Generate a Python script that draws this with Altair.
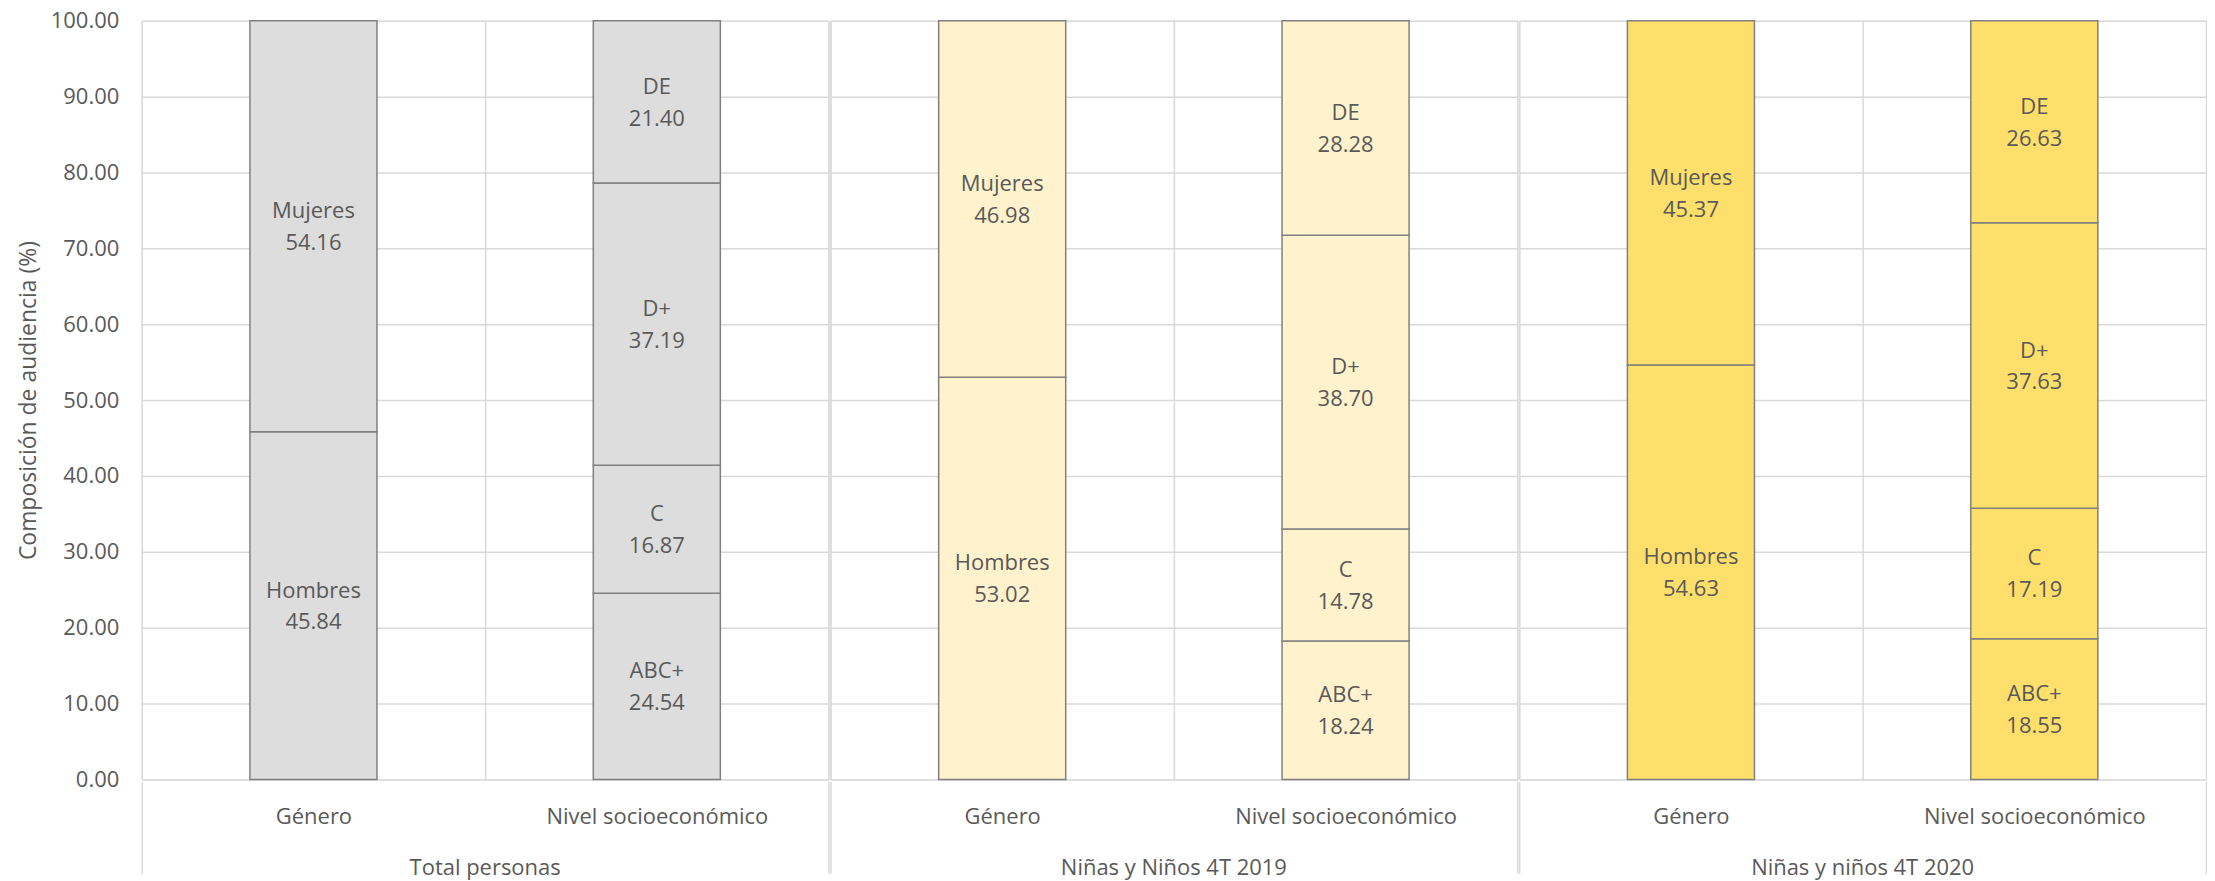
import altair as alt
import pandas as pd

groups = ["Total personas", "Niñas y Niños 4T 2019", "Niñas y niños 4T 2020"]
dimensions = ["Género", "Nivel socioeconómico"]
genero_cats = ["Hombres", "Mujeres"]
nse_cats = ["ABC+", "C", "D+", "DE"]

total_genero = [45.84, 54.16]
total_nse = [24.54, 16.87, 37.19, 21.40]
ninos2019_genero = [53.02, 46.98]
ninos2019_nse = [18.24, 14.78, 38.70, 28.28]
ninos2020_genero = [54.63, 45.37]
ninos2020_nse = [18.55, 17.19, 37.63, 26.63]

colors = ["#DDDDDD", "#FFF2CC", "#FFDF6B"]

series = [
    (groups[0], total_genero, total_nse),
    (groups[1], ninos2019_genero, ninos2019_nse),
    (groups[2], ninos2020_genero, ninos2020_nse),
]

rows = []
for g, gen, nse in series:
    for dim, cats, vals in ((dimensions[0], genero_cats, gen), (dimensions[1], nse_cats, nse)):
        acc = 0.0
        for c, v in zip(cats, vals):
            rows.append({"group": g, "dim": dim, "cat": c, "value": v,
                         "y0": acc, "y1": acc + v, "mid": acc + v / 2})
            acc += v
df = pd.DataFrame(rows)

FONT = "Open Sans"
TXT = "#595959"
GRID = "#D9D9D9"

xaxis = alt.Axis(
    title=None, labelAngle=0, domain=False, grid=True, gridColor=GRID, gridWidth=1.5,
    tickBand="extent", ticks=True, tickSize=92, tickColor=GRID, tickWidth=1.5,
    tickOpacity={"condition": {"test": "datum.value === 'Género'", "value": 0}, "value": 1},
    labelPadding=-67, labelFontSize=22, labelColor=TXT, labelFont=FONT, labelLimit=0,
)
yaxis = alt.Axis(
    title="Composición de audiencia (%)", values=list(range(0, 101, 10)), format=".2f",
    domain=False, ticks=False, grid=True, gridColor=GRID, gridWidth=1.5,
    labelPadding=22, labelFontSize=22, labelColor=TXT, labelFont=FONT,
    titleFontSize=23, titleFontWeight="normal", titleColor=TXT, titleFont=FONT, titlePadding=10,
)

bars = alt.Chart().mark_bar(
    stroke="#808080", strokeWidth=1.5, width=alt.RelativeBandSize(0.37)
).encode(
    x=alt.X("dim:N", sort=dimensions,
            scale=alt.Scale(domain=dimensions, paddingInner=0, paddingOuter=0), axis=xaxis),
    y=alt.Y("y0:Q", scale=alt.Scale(domain=[0, 100], nice=False), axis=yaxis),
    y2="y1:Q",
    color=alt.Color("group:N", scale=alt.Scale(domain=groups, range=colors), legend=None),
)

text = alt.Chart().transform_calculate(
    lbl="[datum.cat, format(datum.value, '.2f')]"
).mark_text(
    font=FONT, fontSize=22, color=TXT, lineHeight=32, baseline="middle", dy=-15
).encode(
    x=alt.X("dim:N", sort=dimensions),
    y=alt.Y("mid:Q"),
    text="lbl:N",
)

layer = alt.layer(bars, text, data=df).properties(width=688, height=760)

chart = layer.facet(
    column=alt.Column("group:N", sort=groups, header=alt.Header(
        title=None, labelOrient="bottom", labelFontSize=22, labelColor=TXT,
        labelFont=FONT, labelPadding=-16)),
    spacing=0,
).properties(
    padding={"left": 9, "top": 1, "right": 0, "bottom": 0}
).configure_view(stroke=None).configure(background="white")

chart.save("out.html", embed_options={"renderer": "svg", "actions": False})
